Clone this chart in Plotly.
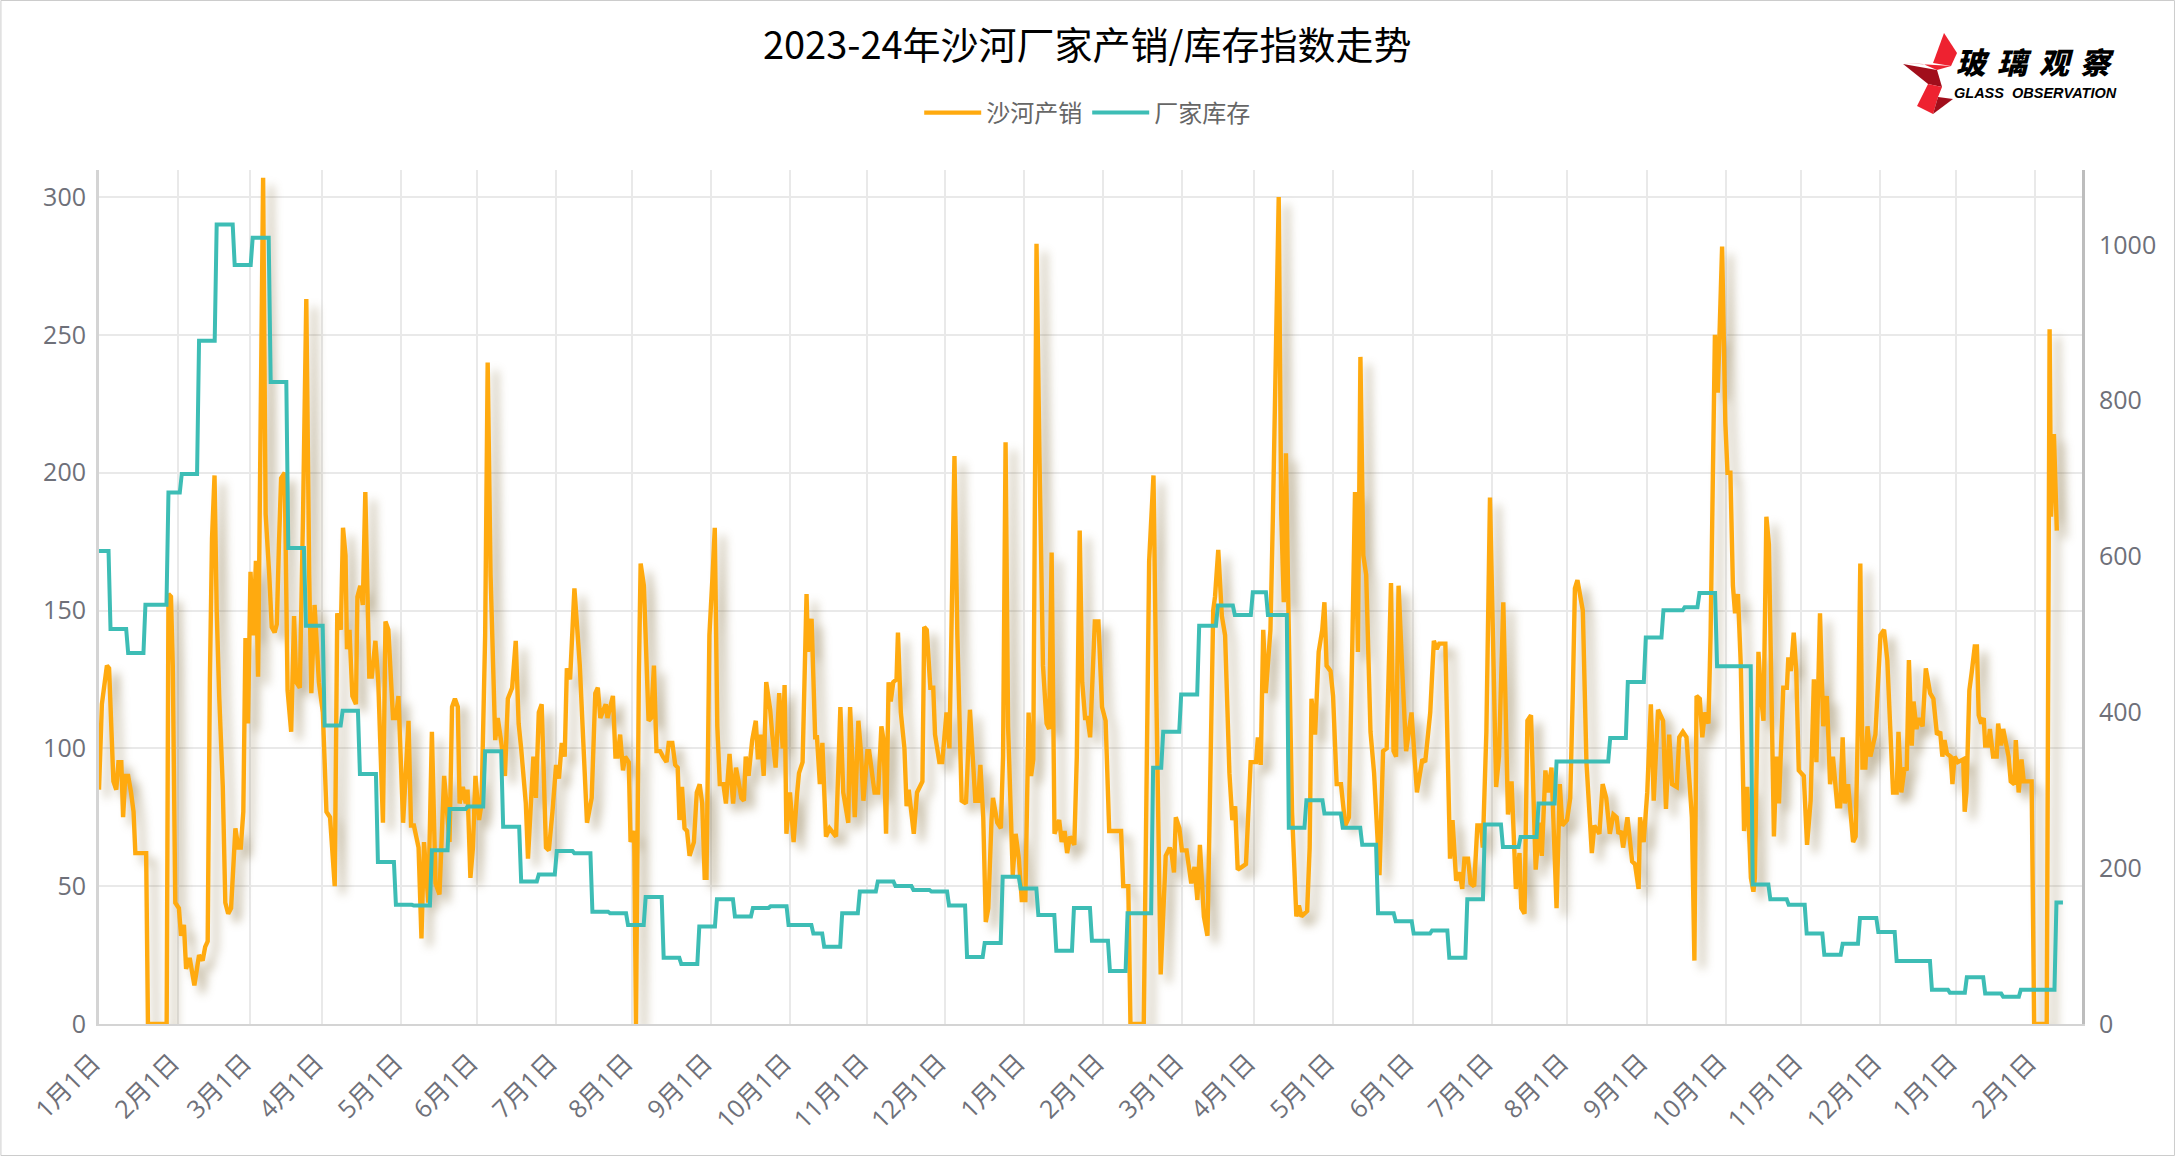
import plotly.graph_objects as go

TITLE = "2023-24年沙河厂家产销/库存指数走势"
month_labels = ["1月1日","2月1日","3月1日","4月1日","5月1日","6月1日","7月1日","8月1日","9月1日","10月1日","11月1日","12月1日",
                "1月1日","2月1日","3月1日","4月1日","5月1日","6月1日","7月1日","8月1日","9月1日","10月1日","11月1日","12月1日","1月1日","2月1日"]
month_index = [0,22,42,62,84,105,127,148,170,192,213.5,235,257,279,301,321,343,365,387,408,430,452,473,495,516,538]

prod_pts = [
(0,85),(0.8,116),(2.2,130),(2.8,129),(4,88),(4.8,85),(5.4,95),(6.2,95),(6.7,75),(7.3,90),(8.1,90),(8.9,84),(9.6,77),(10.1,62),(13.1,62),(13.6,0),(18.8,0),(19.3,156),(20,155),(20.5,130),(21.2,44),(22.2,42),(22.8,32),(23.6,36),(24.2,20),(25.2,24),(26.5,14),(27.8,25),(28.8,23),(29.5,28),(30.2,30),(30.8,124),(31.4,176),(32.1,199),(32.7,150),(33.4,119),(34.4,86),(35.1,44),(35.9,40),(36.7,42),(37.9,71),(38.7,64),(39.4,64),(40.1,77),(40.7,140),(41.4,109),(42.1,164),(42.9,141),(43.6,168),(44.2,126),(45.6,307),(46.3,185),(47.3,163),(48,144),(48.8,142),(49.4,145),(50,174),(50.6,198),(51.6,200),(52.4,121),(53.4,106),(54.2,148),(54.8,124),(55.8,122),(56.7,185),(57.6,263),(58.4,163),(59,120),(59.9,152),(61.1,124),(62.2,113),(63.2,77),(64.2,75),(65.5,50),(66.2,149),(67.2,143),(67.8,180),(68.5,170),(68.9,136),(69.6,143),(70.4,119),(71.4,116),(71.8,155),(72.6,159),(73.3,152),(74,193),(75.1,126),(75.8,126),(76.8,139),(77.6,124),(78.9,73),(79.6,146),(80.4,143),(81.7,111),(82.5,111),(83.2,119),(84.5,73),(86,110),(86.7,72),(87.5,72),(88.8,64),(89.6,31),(90.3,66),(91.5,44),(92.5,106),(93.5,51),(94.6,47),(95.9,90),(97.4,66),(98.1,115),(98.9,118),(99.7,115),(100.2,80),(101.1,86),(101.9,80),(102.4,85),(103.2,53),(103.9,64),(104.6,90),(105.6,74),(106.3,80),(107.3,141),(108,240),(108.8,163),(110.1,103),(110.8,111),(111.8,102),(112.8,90),(113.6,118),(114.8,122),(115.8,139),(116.6,109),(117.3,100),(118.6,80),(119.2,60),(120.7,97),(121.4,82),(122.2,113),(123,116),(124.2,64),(125,63),(126,77),(127,94),(127.8,89),(128.6,102),(129.4,97),(130,129),(130.9,125),(132.1,158),(133.6,130),(135.6,73),(136.9,82),(137.9,120),(138.6,122),(139.3,111),(140.8,116),(141.3,111),(142.8,119),(143.5,97),(144.1,97),(144.8,105),(145.6,92),(146.2,97),(147.2,95),(147.7,66),(148.7,70),(149.2,0),(150,126),(150.5,167),(151.4,159),(152.7,110),(153.4,111),(154.2,130),(154.9,99),(155.9,99),(156.7,97),(157.7,95),(158.3,102),(159.3,102),(160.1,94),(160.8,93),(161.3,74),(162,86),(162.7,71),(163.4,70),(164.1,61),(165.3,66),(166.1,84),(166.9,87),(167.6,80),(168.3,53),(168.8,53),(169.6,141),(170.5,163),(171.1,180),(171.8,108),(172.5,87),(173.5,87),(174.2,80),(175.2,98),(176.2,80),(177,93),(178.5,82),(179.2,81),(179.7,97),(180.5,90),(181.5,103),(182.5,110),(183.1,96),(183.9,105),(184.7,90),(185.4,124),(186.5,114),(187,106),(188,93),(189,120),(190,100),(190.5,123),(191,69),(192,84),(193,66),(194,84),(194.5,91),(195.5,95),(196.6,156),(197,135),(198,147),(199,104),(199.5,104),(200.3,87),(201,102),(202,68),(203,71),(204.8,68),(206,115),(206.8,84),(208.2,73),(208.7,115),(210,75),(211,110),(211.7,99),(212.4,81),(213.5,99),(214,99),(215.5,84),(216.5,84),(217.4,108),(218,103),(218.7,69),(219.4,124),(220,117),(220.7,124),(221.6,125),(222,142),(222.8,113),(223.8,100),(224.4,79),(225,85),(226.4,69),(227.3,84),(228.8,88),(229.3,144),(230,143),(231,122),(231.8,122),(232.3,105),(233.5,95),(234.3,95),(235.5,113),(236.3,100),(237.7,206),(238.5,141),(239.7,81),(240.9,80),(242,114),(243.5,81),(244.3,81),(244.9,94),(245.7,75),(246.4,37),(247.1,42),(248,74),(248.4,82),(249.6,73),(250.6,71),(251.2,97),(251.9,211),(252.6,108),(253.9,54),(254.7,69),(255.6,60),(256.4,45),(257.4,45),(258.3,113),(259,90),(259.6,96),(260.5,283),(261.3,207),(262.3,130),(263.3,109),(264,107),(264.7,171),(265.5,69),(266.8,74),(267.5,66),(268.3,70),(269,62),(269.8,68),(271,65),(271.7,97),(272.5,179),(273.2,124),(274,111),(274.7,111),(275.4,104),(276.7,146),(277.7,146),(278.7,115),(279.7,110),(280.7,70),(284,70),(284.6,50),(286,50),(286.6,0),(290.3,0),(291.8,168),(293,199),(293.8,119),(295,18),(296.4,61),(297.5,64),(298,62),(298.7,55),(299.2,75),(300.2,71),(300.9,63),(302.2,63),(303.5,51),(304.4,57),(305.2,45),(305.9,65),(307,39),(308,32),(308.6,75),(309.6,150),(310.1,155),(311,172),(312,148),(312.9,141),(314.1,91),(314.9,74),(315.7,79),(316.4,56),(317.6,57),(318.7,58),(320,95),(321.5,95),(322,104),(322.8,94),(323.5,143),(324.2,120),(325.5,143),(326.2,185),(327.8,300),(328.5,185),(329.2,153),(329.8,207),(330.5,150),(331.5,77),(332.7,39),(333.4,43),(334.1,39),(335.7,41),(336.4,64),(336.9,118),(337.9,105),(338.9,135),(339.9,143),(340.5,153),(341.1,130),(342.2,128),(342.9,119),(343.9,87),(345.1,87),(346.3,72),(347.3,75),(348.3,141),(349,193),(349.8,135),(350.5,242),(351.3,170),(352.1,163),(353.3,106),(354.3,91),(355.8,54),(356.8,99),(357.8,100),(359,160),(359.7,99),(360.4,97),(361.1,159),(362.2,126),(363.2,99),(364.7,113),(366.2,84),(367.7,96),(368.5,95),(369.9,113),(370.9,139),(371.7,136),(372.4,138),(374.1,138),(375.4,60),(376.1,74),(377.1,52),(378.1,55),(378.8,49),(379.4,60),(380.4,60),(381.1,51),(382.1,50),(383,72),(384,72),(384.5,64),(385.5,106),(386.5,191),(387.5,130),(388.2,86),(389,97),(390.2,153),(391.5,76),(392.5,88),(393.7,49),(394.7,62),(395.2,42),(396.1,40),(396.9,110),(397.9,112),(399.2,56),(400.2,73),(400.9,61),(401.9,92),(402.6,84),(403.6,93),(405,42),(405.9,87),(406.6,72),(407.9,74),(408.8,82),(409.5,119),(410.1,158),(410.8,161),(412.3,150),(413.3,95),(414.8,62),(415.5,72),(416.9,69),(417.8,87),(418.8,82),(419.8,69),(420.8,76),(421.7,75),(422.2,69),(422.9,70),(423.5,64),(424.7,75),(426,59),(426.8,58),(427.8,49),(428.2,75),(429.2,66),(430.2,84),(431.2,116),(432,81),(433.2,114),(434.6,110),(435.4,78),(436.3,105),(437.1,87),(438.4,86),(439.1,104),(440.1,106),(441.1,104),(442.6,75),(443.3,23),(443.9,119),(444.8,118),(445.5,104),(446.2,113),(447.2,109),(447.8,141),(449,250),(449.8,229),(451,282),(451.9,218),(452.5,200),(453.3,200),(454,159),(454.6,149),(455.4,156),(456.2,130),(457.1,70),(458,86),(459,53),(459.7,48),(460.1,53),(461.1,135),(461.8,119),(462.5,110),(463.3,184),(464,174),(465.4,68),(466.1,97),(466.8,80),(468,122),(469,122),(469.4,133),(470.1,128),(470.9,142),(471.6,128),(472.3,92),(473.7,90),(474.6,65),(475.6,81),(476.5,125),(477.2,95),(478.2,149),(479.1,108),(480.1,119),(481,87),(481.8,97),(483,79),(483.8,79),(484.5,104),(485.1,80),(486,87),(487.4,66),(488.1,68),(488.9,119),(489.4,167),(490,93),(490.8,93),(491.4,108),(492.2,97),(493.6,105),(495,141),(496,143),(496.9,132),(497.7,108),(498.5,84),(499.5,84),(500,106),(500.8,84),(501.7,93),(502.3,92),(502.9,132),(503.7,101),(504.2,117),(505,107),(505.7,111),(506.7,108),(507.6,129),(508.8,120),(509.7,118),(510.7,105),(511.6,106),(512.2,97),(512.8,103),(513.5,98),(514.5,97),(515,87),(515.6,97),(516.5,95),(518,96),(518.4,77),(518.9,84),(519.7,121),(520.4,128),(521.2,137),(521.8,137),(522.3,112),(523,109),(523.7,111),(524.1,101),(524.9,101),(525.4,107),(526.3,97),(527.3,97),(527.7,109),(528.5,101),(529.1,107),(530.6,97),(531.2,88),(532.2,87),(532.6,103),(533.4,84),(534.2,96),(534.8,88),(537,88),(537.7,0),(541.2,0),(542,252),(542.4,184),(543.2,214),(544,179),
]
prod_x = [p[0] for p in prod_pts]
prod_y = [p[1] for p in prod_pts]

# factory inventory: index at which each new weekly reading is reached, and its value
inv_start = [0,3.2,8.1,12.9,19.3,23,27.8,32.7,37.7,42.7,47.7,52.6,57.5,62.7,67.7,72.5,77.5,82.5,87.5,92.5,97.4,102.4,107.3,112.3,117.3,122.2,127.2,132.1,137.1,142,147,151.9,156.9,161.8,166.8,171.7,176.7,181.7,186.6,191.6,198.5,201.5,206.5,211.4,216.4,221.3,226.3,231.3,236.2,241.2,246.1,251.1,256.1,261,266,270.9,275.9,280.9,285.8,292.9,295.7,300.7,305.7,310.9,315.6,320.6,324.8,330.6,335.5,340.5,345.6,351,355.4,360.3,365.3,370.4,375.2,380.2,385.1,390.1,395,400,405,419.9,424.8,429.8,434.7,440.6,444.7,449.6,459.5,464.4,469.5,474.5,479.4,484.5,489.3,494.4,499.5,509.3,514.3,519,524.1,529.1,534,543.9]
inv_value = [607,507,476,538,682,706,877,1026,974,1009,824,611,511,383,402,321,208,153,152,223,276,279,350,253,183,192,222,219,144,142,127,163,85,77,125,160,138,149,151,127,116,99,142,170,183,177,172,170,152,86,104,189,174,140,94,149,107,68,142,329,375,423,511,537,525,554,525,252,287,270,252,230,142,132,116,120,85,160,256,227,240,283,337,367,439,496,531,535,553,459,179,160,153,116,89,103,136,118,81,44,40,60,39,35,44,156]
inv_end = 545.7

inv_x, inv_y = [], []
for i, (s, v) in enumerate(zip(inv_start, inv_value)):
    e = inv_start[i + 1] - 0.55 if i + 1 < len(inv_start) else inv_end
    inv_x += [s, e]
    inv_y += [v, v]

W, H = 2175, 1156
L, R, T, B = 98.6, 2082, 170, 1024
FONT = "Open Sans, Noto Sans CJK SC, sans-serif"
CJK = "Noto Sans CJK SC, sans-serif"
px = lambda x: (x - L) / (R - L)
py = lambda y: (B - y) / (B - T)

fig = go.Figure()
fig.add_trace(go.Scatter(x=prod_x, y=prod_y, name="沙河产销", mode="lines", yaxis="y",
                         line=dict(color="#FFAA0F", width=4.4, simplify=False)))
fig.add_trace(go.Scatter(x=inv_x, y=inv_y, name="厂家库存", mode="lines", yaxis="y2",
                         line=dict(color="#3DBDB5", width=4, simplify=False)))

def poly(pts, color):
    d = "M" + " L".join(f"{px(a):.5f},{py(b):.5f}" for a, b in pts) + " Z"
    return dict(type="path", xref="paper", yref="paper", path=d, fillcolor=color, line=dict(width=0), layer="above")

shapes = [
    dict(type="rect", xref="paper", yref="paper", x0=px(0.5), x1=px(W - 0.5), y0=py(H - 0.5), y1=py(0.5),
         line=dict(color="#cccccc", width=1), fillcolor="rgba(0,0,0,0)", layer="below"),
    poly([(1944,33),(1957,53),(1951,66),(1933,63)], "#EE2230"),
    poly([(1903,63),(1951,66),(1937,70),(1923,64)], "#EE2230"),
    poly([(1903,64),(1937,70),(1942,87),(1928,84)], "#A10E1B"),
    poly([(1928,84),(1942,87),(1938,97),(1933,114),(1917,106)], "#EE2230"),
    poly([(1938,97),(1953,99),(1933,114)], "#A10E1B"),
]

annotations = []
for ch, xc in zip("玻璃观察", [1973, 2014, 2056, 2098]):
    annotations.append(dict(text=ch, xref="paper", yref="paper", x=px(xc), y=py(61), xanchor="center", yanchor="middle",
                            showarrow=False, font=dict(family=CJK, size=30, color="#000000", weight=900, style="italic")))
annotations.append(dict(text="GLASS  OBSERVATION", xref="paper", yref="paper", x=px(2035), y=py(93), xanchor="center",
                        yanchor="middle", showarrow=False, borderpad=0,
                        font=dict(family="Liberation Sans", size=14.5, color="#000000", weight=700, style="italic")))

fig.update_layout(
    width=W, height=H, autosize=False,
    margin=dict(l=L, r=W - R, t=T, b=H - B, pad=0),
    paper_bgcolor="#ffffff", plot_bgcolor="#ffffff",
    font=dict(family=FONT, color="#6E7079"),
    title=dict(text=TITLE, x=px(1087), xref="paper", xanchor="center", y=1 - 46 / H, yanchor="middle",
               yref="container", font=dict(family=CJK, size=38, color="#000000")),
    showlegend=True,
    legend=dict(orientation="h", x=px(1087), xanchor="center", y=py(113), yanchor="middle", xref="paper", yref="paper",
                font=dict(family=CJK, size=24, color="#666666"), itemwidth=57, bgcolor="rgba(0,0,0,0)"),
    xaxis=dict(range=[0, 551], tickmode="array", tickvals=month_index, ticktext=month_labels, tickangle=-45,
               showgrid=True, gridcolor="#E9E9E9", gridwidth=2, zeroline=False, showline=True, linecolor="#D4D4D4",
               linewidth=2, ticks="", tickfont=dict(family=FONT, size=25, color="#6E7079"),
               ticklabelstandoff=12, ticklabelshift=-6),
    yaxis=dict(range=[0, 309.8], tickmode="array", tickvals=[0,50,100,150,200,250,300], showgrid=True,
               gridcolor="#E9E9E9", gridwidth=2, zeroline=False, showline=True, linecolor="#D4D4D4", linewidth=3,
               ticks="", tickfont=dict(family=FONT, size=25, color="#6E7079"), ticklabelstandoff=5),
    yaxis2=dict(range=[0, 1096], overlaying="y", side="right", tickmode="array", tickvals=[0,200,400,600,800,1000],
                showgrid=False, zeroline=False, showline=True, linecolor="#BDBDBD", linewidth=3, ticks="",
                tickfont=dict(family=FONT, size=25, color="#6E7079"), ticklabelstandoff=9),
    shapes=shapes, annotations=annotations,
)

post = """
document.body.style.margin='0';
var t=document.querySelectorAll('.scatterlayer .trace');
if(t.length){t[0].style.filter='drop-shadow(8px 8px 5px rgba(120,95,40,0.42))';}
"""
fig.write_html("out.html", post_script=post, config={"displayModeBar": False})
